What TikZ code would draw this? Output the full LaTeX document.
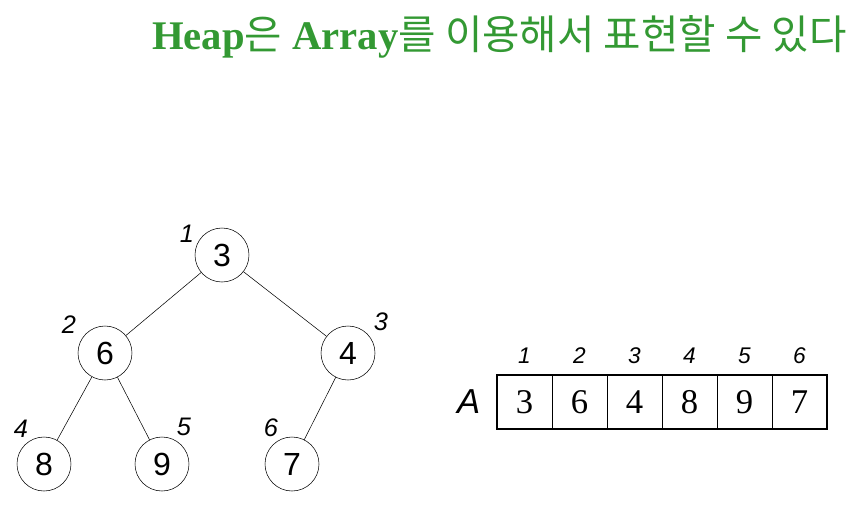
\documentclass[tikz,border=0pt]{standalone}
\usepackage{fontspec}
\setmainfont{Liberation Serif}
\setsansfont{Liberation Sans}
\newfontfamily\kofont{Noto Sans CJK KR}
\usetikzlibrary{positioning}
\definecolor{titlegreen}{RGB}{51,153,51}

\begin{document}
\begin{tikzpicture}[x=0.75pt,y=-0.75pt,node distance=41.25pt,semithick]
  \tikzstyle{heapnode}=[circle,draw=black,thin,minimum size=40.5pt,inner sep=0pt,font=\sffamily\fontsize{24}{24}\selectfont]
  \tikzstyle{treeidx}=[inner sep=0pt,font=\sffamily\itshape\fontsize{19}{19}\selectfont]
  \tikzstyle{arridx}=[inner sep=0pt,font=\sffamily\itshape\fontsize{17}{17}\selectfont]
  \tikzstyle{cell}=[draw=black,thin,minimum width=41.25pt,minimum height=40.5pt,inner sep=0pt,font=\fontsize{26}{26}\selectfont]
  \useasboundingbox (0,0) rectangle (848,504);

  \node (title) [anchor=base east,inner sep=0pt,text=titlegreen,font=\fontsize{30.5}{30.5}\selectfont] at (847,49)
    {\textbf{Heap}{\kofont 은} \textbf{Array}{\kofont 를 이용해서 표현할 수 있다}};

  % tree
  \node[heapnode] (n1) at (222,255) {3};
  \node[heapnode] (n2) at (105,353) {6};
  \node[heapnode] (n3) at (348,353) {4};
  \node[heapnode] (n4) at (44,464)  {8};
  \node[heapnode] (n5) at (162,464) {9};
  \node[heapnode] (n6) at (292,464) {7};

  \node[treeidx] (t1) at (187,234) {1};
  \node[treeidx] (t2) at (69,325)  {2};
  \node[treeidx] (t3) at (381,322) {3};
  \node[treeidx] (t4) at (21,429)  {4};
  \node[treeidx] (t5) at (184,427) {5};
  \node[treeidx] (t6) at (271,428) {6};

  \path[thin]
  (n1) edge (n2)
  (n1) edge (n3)
  (n2) edge (n4)
  (n2) edge (n5)
  (n3) edge (n6);

  % array
  \node[cell] (a1) at (524.5,402) {3};
  \node[cell] (a2) [right of=a1] {6};
  \node[cell] (a3) [right of=a2] {4};
  \node[cell] (a4) [right of=a3] {8};
  \node[cell] (a5) [right of=a4] {9};
  \node[cell] (a6) [right of=a5] {7};
  \draw[line width=1.5pt] (a1.north west) rectangle (a6.south east);

  \foreach \i in {1,...,6}
    \node[arridx] (k\i) at ([yshift=14.5pt]a\i.north) {\i};

  \node (lblA) [inner sep=0pt,left=12pt of a1,font=\sffamily\itshape\fontsize{26}{26}\selectfont] {A};
\end{tikzpicture}
\end{document}
